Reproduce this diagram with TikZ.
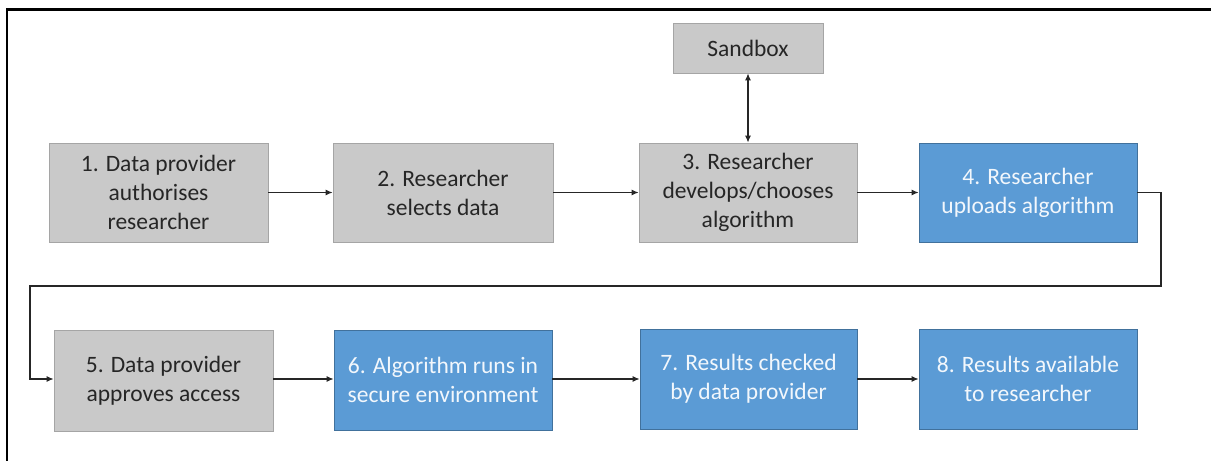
\documentclass[tikz,border=0pt]{standalone}
\usepackage{fontspec}
\setmainfont{Carlito}
\usetikzlibrary{arrows.meta}
\definecolor{gfill}{HTML}{C9C9C9}
\definecolor{gdraw}{HTML}{A5A5A5}
\definecolor{bfill}{HTML}{5B9BD5}
\definecolor{bdraw}{HTML}{41719C}
\begin{document}
\begin{tikzpicture}[x=1bp,y=-1bp,
  box/.style={rectangle, minimum height=99bp, inner sep=0pt, align=center,
    font=\fontsize{23.5bp}{29bp}\selectfont},
  greybox/.style={box, fill=gfill, draw=gdraw, line width=0.8bp, text=black!85},
  bluebox/.style={box, fill=bfill, draw=bdraw, line width=0.8bp, text=white!92!bfill},
  conn/.style={line width=1.1bp, draw=black!85, -{Latex[length=7bp,width=6bp]}},
  conn2/.style={line width=1.1bp, draw=black!85, {Latex[length=7bp,width=6bp]}-{Latex[length=7bp,width=6bp]}}]
\useasboundingbox (0,0) rectangle (1211,461);
\draw[line width=2.4bp] (7,461) -- (7,9.5) -- (1211,9.5);
\node[greybox, minimum width=219bp] (n1) at (158.5,192.5) {1. Data provider\\authorises\\researcher};
\node[greybox, minimum width=220bp] (n2) at (443,192.5) {2. Researcher\\selects data};
\node[greybox, minimum width=218bp] (n3) at (748,192.5) {3. Researcher\\develops/chooses\\algorithm};
\node[bluebox, minimum width=218bp] (n4) at (1028,192.5) {4. Researcher\\uploads algorithm};
\node[greybox, minimum width=150bp, minimum height=50bp] (sb) at (748,48) {Sandbox};
\node[greybox, minimum width=219bp, minimum height=101bp] (n5) at (163.5,380.5) {5. Data provider\\approves access};
\node[bluebox, minimum width=218bp, minimum height=100bp] (n6) at (443,380) {6. Algorithm runs in\\secure environment};
\node[bluebox, minimum width=217bp, minimum height=100bp] (n7) at (748.5,379) {7. Results checked\\by data provider};
\node[bluebox, minimum width=218bp, minimum height=100bp] (n8) at (1028,379) {8. Results available\\to researcher};
\coordinate (c1) at (1161,192.5);
\coordinate (c2) at (1161,286);
\coordinate (c3) at (30,286);
\coordinate (c4) at (30,379);
\draw[conn] (n1) -- (n2);
\draw[conn] (n2) -- (n3);
\draw[conn] (n3) -- (n4);
\draw[conn2] (sb) -- (n3);
\draw[conn] (n4.east) -- (c1) -- (c2) -- (c3) -- (c4) -- (n5.west |- c4);
\draw[conn] (n5.east |- c4) -- (n6.west |- c4);
\draw[conn] (n6.east |- c4) -- (n7.west |- c4);
\draw[conn] (n7) -- (n8);
\end{tikzpicture}
\end{document}
